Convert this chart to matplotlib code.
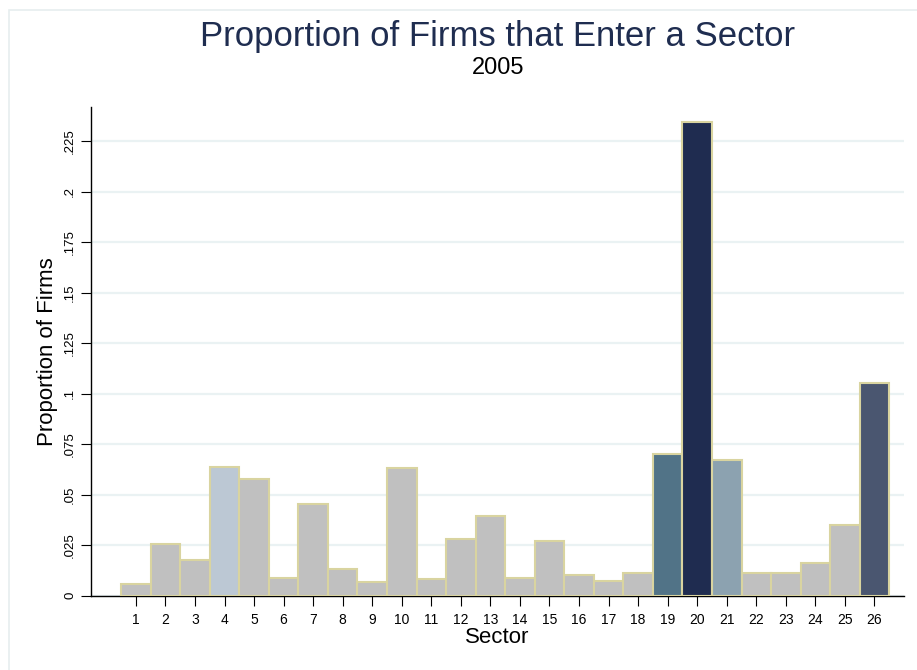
import matplotlib
matplotlib.use('Agg')
import matplotlib.pyplot as plt
from matplotlib.patches import Rectangle

plt.rcParams['font.family'] = ['Liberation Sans', 'DejaVu Sans']

# data
sectors = list(range(1, 27))
proportions = [0.0057, 0.0256, 0.0177, 0.0639, 0.0576, 0.0088, 0.0452, 0.0132,
               0.0069, 0.0630, 0.0081, 0.0282, 0.0395, 0.0088, 0.0271, 0.0102,
               0.0074, 0.0110, 0.0704, 0.2344, 0.0671, 0.0113, 0.0113, 0.0163,
               0.0348, 0.1055]
highlight = {4: '#bcc8d4', 19: '#517387', 20: '#1f2c50', 21: '#8ca2b0', 26: '#4a5670'}
yticks = [0, 0.025, 0.05, 0.075, 0.1, 0.125, 0.15, 0.175, 0.2, 0.225]
ytick_labels = ['0', '.025', '.05', '.075', '.1', '.125', '.15', '.175', '.2', '.225']

colors = [highlight.get(s, '#c0c0c0') for s in sectors]

fig = plt.figure(figsize=(9.17, 6.70), dpi=100)
ax = fig.add_axes([91.3 / 917, 1 - 595.7 / 670, (904 - 91.3) / 917, (595.7 - 107.3) / 670])

ax.bar(sectors, proportions, width=1.0, color=colors, edgecolor='#d9d4a0',
       linewidth=1.5, zorder=3)

ax.set_xlim(-0.51, 27.0)
ax.set_ylim(0, 0.2418)
ax.set_xticks(sectors)
ax.set_xticklabels([str(s) for s in sectors], fontsize=10)
ax.set_yticks(yticks)
ax.set_yticklabels(ytick_labels, fontsize=9.5, rotation=90, va='center')
ax.tick_params(axis='both', length=7.5, width=0.8, color='black')
ax.tick_params(axis='x', pad=5)
ax.tick_params(axis='y', pad=3.5)

ax.yaxis.grid(True, color='#eaf2f3', linewidth=1.6, zorder=0)
ax.set_axisbelow(True)
for side in ['top', 'right']:
    ax.spines[side].set_visible(False)
for side in ['left', 'bottom']:
    ax.spines[side].set_linewidth(1.0)

ax.set_xlabel('Sector', fontsize=16, labelpad=0)
ax.set_ylabel('Proportion of Firms', fontsize=16, labelpad=4)

# titles are centred over the plot region, not the whole figure
cx = (91.3 + 904) / 2 / 917
fig.text(cx, 1 - 46 / 670, 'Proportion of Firms that Enter a Sector',
         ha='center', va='baseline', fontsize=25, color='#1f2d50')
fig.text(cx, 1 - 74 / 670, '2005', ha='center', va='baseline', fontsize=17,
         color='black')

# light outer frame (only left/top edges fall inside the picture)
fig.patches.append(Rectangle((9 / 917, -0.1), 1.2, 1 - 10 / 670 + 0.1,
                             transform=fig.transFigure, fill=False,
                             edgecolor='#e6eeef', linewidth=1.2))

fig.savefig('out.png', dpi=100)
